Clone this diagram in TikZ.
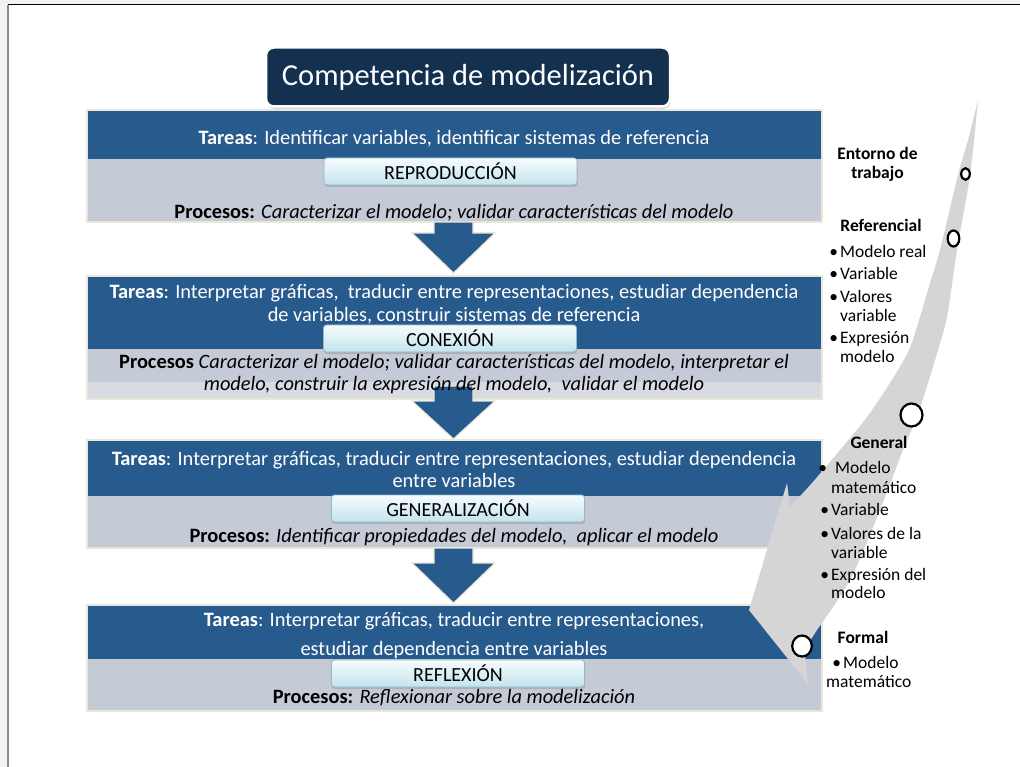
\documentclass[tikz,border=0pt]{standalone}
\usepackage{fontspec}
\setmainfont{Carlito}
\usetikzlibrary{shadows}
\definecolor{bandblue}{HTML}{285B8D}
\definecolor{navy}{HTML}{14304F}
\definecolor{bandgray}{HTML}{C5CBD6}
\definecolor{bandgraylt}{HTML}{D8DBE2}
\definecolor{rim}{HTML}{EAE7DA}
\definecolor{btntop}{HTML}{F6FCFE}
\definecolor{btnbot}{HTML}{C3E3ED}
\definecolor{btnline}{HTML}{93B7C6}
\definecolor{arrowgray}{HTML}{D5D5D5}
\definecolor{pagebg}{HTML}{F2F2F2}
\definecolor{pageline}{HTML}{8A8A8A}
\tikzset{
  bandtxt/.style={font=\fontsize{20.4}{22}\selectfont, anchor=base, inner sep=0pt},
  tareas/.style={bandtxt, text=white},
  procesos/.style={bandtxt, text=black},
  btn/.style={draw=btnline, line width=0.8pt, rounded corners=3pt, top color=btntop,
    bottom color=btnbot, minimum height=27pt, minimum width=253pt, inner sep=0pt,
    font=\fontsize{20}{22}\selectfont,
    drop shadow={opacity=0.35, shadow xshift=0.5pt, shadow yshift=-2pt}},
  titlebox/.style={draw=white, line width=2.5pt, fill=navy, rounded corners=8pt,
    minimum width=404pt, minimum height=59pt, inner sep=0pt, text=white,
    font=\fontsize{30.5}{32}\selectfont,
    drop shadow={opacity=0.3, shadow xshift=1pt, shadow yshift=-2.5pt}},
  sidetxt/.style={font=\fontsize{17.5}{20}\selectfont, anchor=base west, inner sep=0pt},
  sidehead/.style={font=\fontsize{17.5}{19}\selectfont\bfseries, anchor=base, inner sep=0pt, align=center},
  ring/.style={draw=black, line width=2.2pt, fill=white},
  downarrow/.style={fill=bandblue, draw=rim, line width=1.2pt},
  bandrim/.style={draw=rim, line width=1.2pt},
}
\begin{document}
\begin{tikzpicture}[x=1pt,y=-1pt]
\useasboundingbox (0,0) rectangle (1020,767);
% page
\fill[pagebg] (0,0) rectangle (1020,767);
\fill[white] (8,5) rectangle (1020,767);
\draw[black, line width=0.8pt] (8,4.6) -- (1020,4.6);
\draw[pageline, line width=2pt] (8,5) -- (8,767);

% ---- bands ----
\fill[bandgray] (87,159) rectangle (822,222);
\fill[bandblue] (87,110) rectangle (822,159);
\draw[bandrim] (87,110) rectangle (822,222);

\fill[bandgray] (87,349) rectangle (822,382);
\fill[bandgraylt] (87,382) rectangle (822,399);
\fill[bandblue] (87,276) rectangle (822,349);
\draw[bandrim] (87,276) rectangle (822,399);

\fill[bandgray] (87,496) rectangle (822,548);
\fill[bandblue] (87,440) rectangle (822,496);
\draw[bandrim] (87,440) rectangle (822,548);

\fill[bandgray] (87,659) rectangle (822,711);
\fill[bandblue] (87,605) rectangle (822,659);
\draw[bandrim] (87,605) rectangle (822,711);

% ---- down arrows ----
\draw[downarrow] (434,222) -- (473,222) -- (473,233) -- (495,233) -- (453.5,273) -- (412,233) -- (434,233) -- cycle;
\draw[downarrow] (434,386) -- (473,386) -- (473,401) -- (495,401) -- (453.5,439) -- (412,401) -- (434,401) -- cycle;
\draw[downarrow] (434,548) -- (473,548) -- (473,563) -- (495,563) -- (453.5,603) -- (412,563) -- (434,563) -- cycle;

% ---- title ----
\node[titlebox] (title) at (468,77) {Competencia de modelización};

% ---- band texts ----
\node[tareas] (t1) at (454,145) {\textbf{Tareas}: Identificar variables, identificar sistemas de referencia};
\node[btn] (b1) at (450.5,171.5) {REPRODUCCIÓN};
\node[procesos] (p1) at (454,219) {\textbf{Procesos:} \textit{Caracterizar el modelo; validar características del modelo}};

\node[tareas] (t2a) at (454,299) {\textbf{Tareas}: Interpretar gráficas,\ \ traducir entre representaciones, estudiar dependencia};
\node[tareas] (t2b) at (454,321) {de variables, construir sistemas de referencia};
\node[btn] (b2) at (450,338.5) {CONEXIÓN};
\node[procesos] (p2a) at (454,368) {\textbf{Procesos} \textit{Caracterizar el modelo; validar características del modelo, interpretar el}};
\node[procesos] (p2b) at (454,390) {\textit{modelo, construir la expresión del modelo,\ \ validar el modelo}};

\node[tareas] (t3a) at (454,465) {\textbf{Tareas}: Interpretar gráficas, traducir entre representaciones, estudiar dependencia};
\node[tareas] (t3b) at (454,487) {entre variables};
\node[btn] (b3) at (458,508.5) {GENERALIZACIÓN};
\node[procesos] (p3) at (454,542) {\textbf{Procesos:} \textit{Identificar propiedades del modelo,\ \ aplicar el modelo}};

\node[tareas] (t4a) at (454,626) {\textbf{Tareas}: Interpretar gráficas, traducir entre representaciones,};
\node[tareas] (t4b) at (454,655) {estudiar dependencia entre variables};
\node[btn] (b4) at (458,673.5) {REFLEXIÓN};
\node[procesos] (p4) at (454,703) {\textbf{Procesos:} \textit{Reflexionar sobre la modelización}};

% ---- gray curved arrow ----
\fill[arrowgray] plot[smooth, tension=0.5] coordinates {(978,100) (968,140) (958,175) (940,250) (930,283) (920,317) (909,350) (890,383) (867,417) (840,450) (812,483) (790,507)}
  -- (787,483) -- (749,610) -- (808,684) -- (804.5,650)
  -- plot[smooth, tension=0.5] coordinates {(804.5,650) (815,633) (850,580) (880,510) (903,450) (917,417) (928,383) (938,350) (947,317) (957,250) (970,175) (978,100)} -- cycle;

% ---- rings ----
\draw[ring] (965.5,174) ellipse [x radius=4.3pt, y radius=5.8pt];
\draw[ring] (953.5,238.5) ellipse [x radius=5.8pt, y radius=8pt];
\draw[ring] (911.5,415) ellipse [x radius=11pt, y radius=11.5pt];
\draw[ring] (802,646) ellipse [x radius=9.8pt, y radius=10.5pt];

% ---- side texts ----
\node[sidehead] (env) at (877.5,179) {Entorno de\\trabajo};
\node[sidehead] (ref) at (881,232) {Referencial};
\node[sidetxt] (r1) at (840,258) {\llap{•\hspace{2pt}}Modelo real};
\node[sidetxt] (r2) at (840,280) {\llap{•\hspace{2pt}}Variable};
\node[sidetxt] (r3) at (840,302) {\llap{•\hspace{2pt}}Valores};
\node[sidetxt] (r3b) at (840,321) {variable};
\node[sidetxt] (r4) at (840,343) {\llap{•\hspace{2pt}}Expresión};
\node[sidetxt] (r4b) at (840,362) {modelo};

\node[sidehead] (gen) at (879,448) {General};
\node[sidetxt] (g1) at (835,473) {\llap{•\hspace{8pt}}Modelo};
\node[sidetxt] (g1b) at (831,493) {matemático};
\node[sidetxt] (g2) at (831,515) {\llap{•\hspace{2pt}}Variable};
\node[sidetxt] (g3) at (831,539) {\llap{•\hspace{2pt}}Valores de la};
\node[sidetxt] (g3b) at (831,558) {variable};
\node[sidetxt] (g4) at (831,580) {\llap{•\hspace{2pt}}Expresión del};
\node[sidetxt] (g4b) at (831,598) {modelo};

\node[sidehead] (frm) at (863,643) {Formal};
\node[sidetxt] (f1) at (843,668) {\llap{•\hspace{2pt}}Modelo};
\node[sidetxt] (f1b) at (826,687) {matemático};
\end{tikzpicture}
\end{document}
